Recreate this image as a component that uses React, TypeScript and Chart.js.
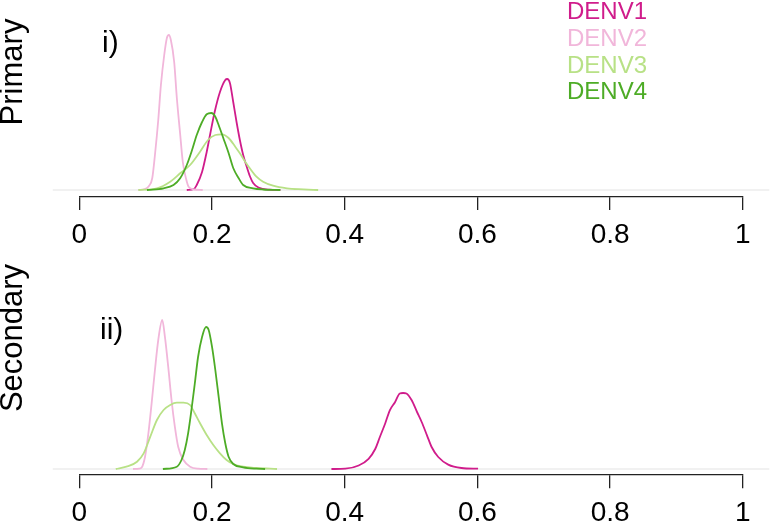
import React, { useEffect, useRef } from "react";
import { Chart, registerables } from "chart.js";

Chart.register(...registerables);

// ---------- data ----------
const seriesNames = ["DENV1", "DENV2", "DENV3", "DENV4"];
const seriesColors = ["#D01C8B", "#F1B6DA", "#B8E186", "#4DAC26"];
const xTicks = [0, 0.2, 0.4, 0.6, 0.8, 1];
const xTickLabels = ["0", "0.2", "0.4", "0.6", "0.8", "1"];
const panelTitles = ["Primary", "Secondary"];
const panelTags = ["i)", "ii)"];

// Primary panel densities
const primDenv1X = [0.162, 0.173, 0.177, 0.185, 0.192, 0.197, 0.204, 0.212, 0.22, 0.223, 0.227, 0.232, 0.237, 0.242, 0.247, 0.252, 0.257, 0.262, 0.27, 0.287, 0.303];
const primDenv1Y = [0, 0.2, 1.0, 3.6, 7.6, 11.0, 15.6, 19.6, 22.0, 22.2, 21.4, 17.6, 13.6, 10.0, 7.0, 4.8, 2.8, 1.4, 0.5, 0.06, 0];
const primDenv2X = [0.089, 0.099, 0.105, 0.11, 0.114, 0.119, 0.123, 0.128, 0.132, 0.135, 0.138, 0.143, 0.147, 0.152, 0.156, 0.161, 0.165, 0.173, 0.186];
const primDenv2Y = [0, 0.2, 0.8, 2.4, 7.0, 14.0, 21.0, 27.0, 30.4, 31.0, 30.0, 25.6, 18.4, 11.2, 5.6, 2.2, 0.6, 0.1, 0];
const primDenv3X = [0.089, 0.117, 0.137, 0.152, 0.167, 0.182, 0.194, 0.205, 0.215, 0.225, 0.235, 0.242, 0.25, 0.257, 0.267, 0.277, 0.292, 0.313, 0.338, 0.36];
const primDenv3Y = [0, 0.34, 1.66, 3.34, 5.0, 7.66, 10.0, 11.0, 11.14, 10.4, 8.66, 7.34, 5.66, 4.34, 2.66, 1.66, 0.86, 0.34, 0.14, 0];
const primDenv4X = [0.102, 0.127, 0.142, 0.152, 0.162, 0.169, 0.177, 0.185, 0.192, 0.199, 0.205, 0.21, 0.217, 0.225, 0.232, 0.24, 0.247, 0.262, 0.277, 0.303];
const primDenv4Y = [0, 0.34, 1.0, 2.34, 5.0, 7.6, 11.0, 13.6, 15.14, 15.4, 14.66, 13.0, 10.4, 7.4, 4.4, 2.4, 1.0, 0.34, 0.1, 0];

// Secondary panel densities
const secDenv1X = [0.38, 0.401, 0.421, 0.436, 0.446, 0.453, 0.461, 0.468, 0.476, 0.483, 0.488, 0.493, 0.501, 0.509, 0.516, 0.524, 0.531, 0.541, 0.556, 0.576, 0.601];
const secDenv1Y = [0, 0.06, 0.7, 2.04, 4.0, 6.4, 9.1, 11.74, 13.4, 15.1, 15.2, 15.1, 13.74, 11.4, 9.4, 6.74, 4.4, 2.4, 0.88, 0.2, 0.06];
const secDenv2X = [0.081, 0.09, 0.094, 0.099, 0.104, 0.109, 0.114, 0.119, 0.125, 0.129, 0.134, 0.139, 0.144, 0.149, 0.157, 0.167, 0.179, 0.193];
const secDenv2Y = [0, 0.08, 0.3, 2.4, 7.0, 13.14, 19.8, 25.8, 29.8, 26.46, 20.46, 13.8, 8.46, 4.46, 1.8, 0.46, 0.06, 0];
const secDenv3X = [0.055, 0.071, 0.087, 0.097, 0.107, 0.117, 0.127, 0.137, 0.147, 0.157, 0.167, 0.174, 0.182, 0.192, 0.202, 0.212, 0.222, 0.232, 0.247, 0.267, 0.298];
const secDenv3Y = [0, 0.46, 1.46, 3.14, 6.46, 9.8, 11.8, 12.8, 13.26, 13.26, 12.8, 11.14, 9.14, 6.8, 4.8, 3.14, 1.8, 1.0, 0.46, 0.2, 0];
const secDenv4X = [0.126, 0.147, 0.154, 0.159, 0.164, 0.169, 0.174, 0.179, 0.185, 0.191, 0.195, 0.2, 0.205, 0.21, 0.215, 0.22, 0.225, 0.232, 0.247, 0.267, 0.28];
const secDenv4Y = [0, 0.46, 1.8, 3.8, 7.14, 11.8, 17.0, 22.4, 26.4, 28.4, 27.8, 24.46, 19.8, 14.46, 9.14, 5.14, 2.46, 1.0, 0.34, 0.06, 0];

// zero line extends 4% past the axis range on each side
const zeroLineX = [-0.04, 1.04];
const zeroLineY = [0, 0];

const FONT = "'Liberation Sans', Arial, Helvetica, sans-serif";
const AXIS_H = 64;

function pts(xs: number[], ys: number[]) {
  return xs.map((x, i) => ({ x, y: ys[i] }));
}

function makeConfig(
  curves: { x: number[]; y: number[] }[],
  yMin: number,
  yMax: number,
  padTop: number,
  padBottom: number,
  panelIndex: number
): any {
  const datasets: any[] = [
    {
      label: "zero",
      data: pts(zeroLineX, zeroLineY),
      borderColor: "#e3e3e3",
      borderWidth: 1,
      pointRadius: 0,
      clip: false,
      order: 10,
    },
  ];
  curves.forEach((c, i) => {
    datasets.push({
      label: seriesNames[i],
      data: pts(c.x, c.y),
      borderColor: seriesColors[i],
      borderWidth: 1.8,
      pointRadius: 0,
      fill: false,
      cubicInterpolationMode: "monotone",
      clip: false,
      order: 4 - i,
    });
  });

  const textPlugin = {
    id: "panelText" + panelIndex,
    afterDraw(chart: any) {
      const ctx = chart.ctx as CanvasRenderingContext2D;
      ctx.save();
      ctx.fillStyle = "#000";
      ctx.textBaseline = "alphabetic";
      // rotated panel title
      ctx.save();
      const cy = panelIndex === 0 ? 72 : 338;
      ctx.translate(22, cy);
      ctx.rotate(-Math.PI / 2);
      ctx.textAlign = "center";
      ctx.font = `31px ${FONT}`;
      ctx.fillText(panelTitles[panelIndex], 0, 0);
      ctx.restore();
      // panel tag
      ctx.textAlign = "left";
      ctx.font = `30px ${FONT}`;
      if (panelIndex === 0) ctx.fillText(panelTags[0], 102, 52);
      else ctx.fillText(panelTags[1], 100, 339);
      // legend (top panel only)
      if (panelIndex === 0) {
        ctx.font = `24px ${FONT}`;
        const baselines = [19, 45.7, 72.5, 99];
        seriesNames.forEach((n, i) => {
          ctx.fillStyle = seriesColors[i];
          ctx.fillText(n, 567, baselines[i]);
        });
      }
      ctx.restore();
    },
  };

  return {
    type: "line",
    data: { datasets },
    plugins: [textPlugin],
    options: {
      animation: false,
      responsive: false,
      devicePixelRatio: 1,
      layout: {
        padding: { left: 79.3, right: 770 - 742.8, top: padTop, bottom: padBottom },
      },
      plugins: { legend: { display: false }, tooltip: { enabled: false } },
      scales: {
        x: {
          type: "linear",
          min: 0,
          max: 1,
          afterBuildTicks: (axis: any) => {
            axis.ticks = xTicks.map((v) => ({ value: v }));
          },
          afterFit: (axis: any) => {
            axis.height = AXIS_H;
          },
          grid: {
            display: true,
            drawOnChartArea: false,
            drawTicks: true,
            tickLength: 13.3,
            color: "#222",
            lineWidth: 1.3,
          },
          border: { display: true, color: "#222", width: 1.3 },
          ticks: {
            autoSkip: false,
            maxRotation: 0,
            minRotation: 0,
            padding: 11,
            color: "#000",
            font: { family: FONT, size: 28, lineHeight: 1 },
            callback: (_v: any, i: number) => xTickLabels[i],
          },
        },
        y: { type: "linear", display: false, min: yMin, max: yMax },
      },
    },
  };
}

export default function App() {
  const topRef = useRef<HTMLCanvasElement>(null);
  const botRef = useRef<HTMLCanvasElement>(null);

  useEffect(() => {
    const topCfg = makeConfig(
      [
        { x: primDenv1X, y: primDenv1Y },
        { x: primDenv2X, y: primDenv2Y },
        { x: primDenv3X, y: primDenv3Y },
        { x: primDenv4X, y: primDenv4Y },
      ],
      -1.34,
      34.8,
      16,
      524 - 196.7 - AXIS_H,
      0
    );
    const botCfg = makeConfig(
      [
        { x: secDenv1X, y: secDenv1Y },
        { x: secDenv2X, y: secDenv2Y },
        { x: secDenv3X, y: secDenv3Y },
        { x: secDenv4X, y: secDenv4Y },
      ],
      -1.2,
      33.8,
      300,
      580 - 475 - AXIS_H,
      1
    );
    const c1 = new Chart(topRef.current as HTMLCanvasElement, topCfg);
    const c2 = new Chart(botRef.current as HTMLCanvasElement, botCfg);
    return () => {
      c1.destroy();
      c2.destroy();
    };
  }, []);

  return (
    <div
      style={{
        position: "fixed",
        left: 0,
        top: 0,
        width: 770,
        height: 524,
        background: "#fff",
        overflow: "hidden",
      }}
    >
      <canvas ref={topRef} width={770} height={524} style={{ position: "absolute", left: 0, top: 0 }} />
      <canvas ref={botRef} width={770} height={580} style={{ position: "absolute", left: 0, top: 0 }} />
    </div>
  );
}
